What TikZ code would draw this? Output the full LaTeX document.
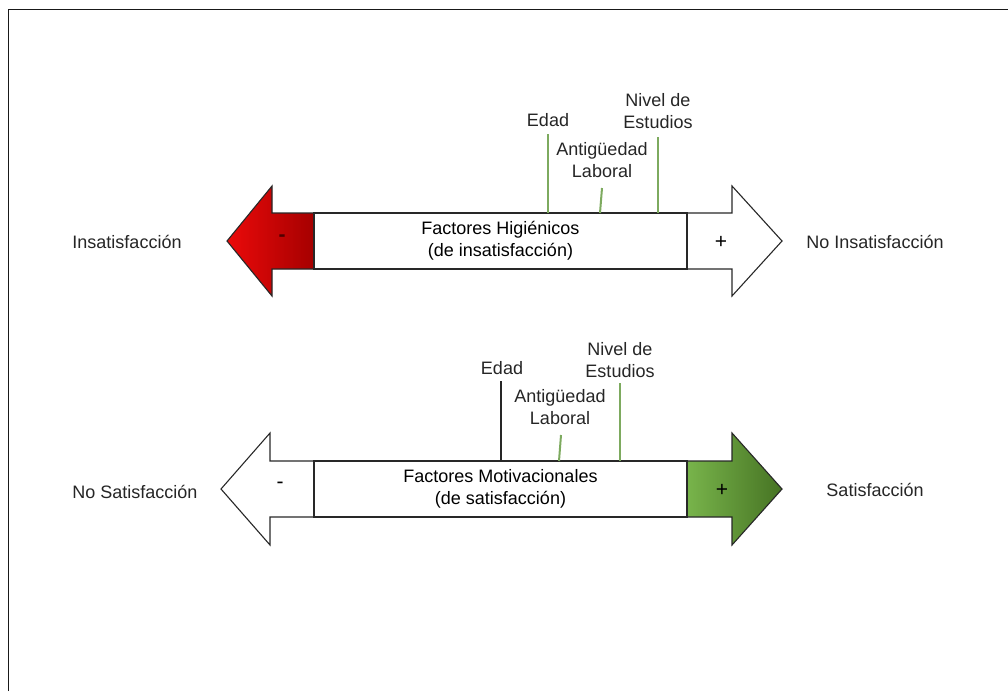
\documentclass[tikz,border=0pt]{standalone}
\usepackage{fontspec}
\setmainfont{Liberation Sans}
\definecolor{tickgreen}{RGB}{125,170,95}
\definecolor{redL}{RGB}{235,10,10}
\definecolor{redR}{RGB}{165,0,0}
\definecolor{greenL}{RGB}{120,180,75}
\definecolor{greenR}{RGB}{70,115,35}
\definecolor{outline}{RGB}{40,40,40}
\definecolor{signred}{RGB}{80,0,0}
\begin{document}
\begin{tikzpicture}[x=1pt,y=-1pt,
  font=\fontsize{18}{22}\selectfont,
  every node/.style={inner sep=2pt},
  bar/.style={draw=outline, line width=1.1pt, fill=white, minimum width=373pt, minimum height=56pt, inner sep=0pt, align=center},
  head/.style={draw=outline, line width=1.1pt, line join=miter},
  side/.style={align=center, text=black!85},
  tag/.style={align=center, text=black!85},
  sign/.style={font=\fontsize{21}{22}\selectfont},
  tick/.style={line width=2pt, draw=tickgreen},
  tickdark/.style={line width=1.6pt, draw=black!85}]
\useasboundingbox (0,0) rectangle (1008,691);
\fill[white] (0,0) rectangle (1008,691);
% outer frame
\draw[line width=1.8pt, black!90] (8.5,691) -- (8.5,9.5) -- (1008,9.5);

% ---------- hygiene factors ----------
\shade[head, left color=redL, right color=redR]
  (314,213) -- (272,213) -- (272,186) -- (227,241) -- (272,296) -- (272,269) -- (314,269) -- cycle;
\draw[head, fill=white]
  (687,213) -- (732,213) -- (732,186) -- (782,241) -- (732,296) -- (732,269) -- (687,269) -- cycle;
\node[bar] (boxA) at (500.5,241) {Factores Higiénicos\\(de insatisfacción)};
\node[sign, text=signred, font=\fontsize{21}{22}\bfseries] (minusA) at (282,238) {-};
\node[sign] (plusA) at (721,242) {+};
\node[side] (leftA) at (127,242) {Insatisfacción};
\node[side] (rightA) at (875,242) {No Insatisfacción};

\node[tag] (edadA) at (548,120) {Edad};
\node[tag] (antA) at (602,160) {Antigüedad\\Laboral};
\node[tag] (nivA) at (658,111) {Nivel de\\Estudios};
\draw[tick] (548,134) -- (548,213);
\draw[tick] (602,188) -- (600,213);
\draw[tick] (658,137) -- (658,213);

% ---------- motivation factors ----------
\draw[head, fill=white]
  (314,461) -- (270,461) -- (270,433) -- (221,489) -- (270,545) -- (270,517) -- (314,517) -- cycle;
\shade[head, left color=greenL, right color=greenR]
  (687,461) -- (732,461) -- (732,433) -- (782,489) -- (732,545) -- (732,517) -- (687,517) -- cycle;
\node[bar] (boxB) at (500.5,489) {Factores Motivacionales\\(de satisfacción)};
\node[sign] (minusB) at (280,485) {-};
\node[sign] (plusB) at (722,490) {+};
\node[side] (leftB) at (135,492) {No Satisfacción};
\node[side] (rightB) at (875,490) {Satisfacción};

\node[tag] (edadB) at (502,368) {Edad};
\node[tag] (antB) at (560,407) {Antigüedad\\Laboral};
\node[tag] (nivB) at (620,360) {Nivel de\\Estudios};
\draw[tickdark] (501,381) -- (501,461);
\draw[tick] (561,435) -- (559,461);
\draw[tick] (620,383) -- (620,461);
\end{tikzpicture}
\end{document}
